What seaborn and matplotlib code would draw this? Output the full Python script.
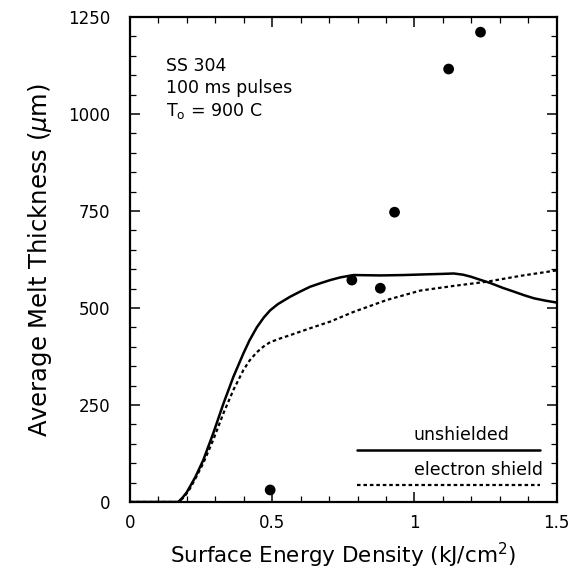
import matplotlib
matplotlib.use("Agg")
import matplotlib.pyplot as plt
import pandas as pd
import seaborn as sns
from matplotlib.ticker import MultipleLocator

unshielded_x = [0.0, 0.17, 0.185, 0.2, 0.23, 0.258, 0.293, 0.329, 0.364, 0.399,
                0.42, 0.446, 0.47, 0.493, 0.52, 0.563, 0.6, 0.634, 0.67, 0.704,
                0.74, 0.786, 0.88, 0.962, 1.05, 1.1, 1.138, 1.17, 1.197, 1.23,
                1.268, 1.31, 1.35, 1.385, 1.42, 1.46, 1.5]
unshielded_y = [0, 0, 11, 25, 64, 108, 177, 254, 323, 383,
                416, 450, 475, 494, 510, 529, 543, 555, 564, 572,
                579, 585, 584, 585, 587, 588, 589, 586, 581, 573,
                564, 552, 542, 533, 525, 519, 514]

shield_x = [0.0, 0.17, 0.19, 0.211, 0.235, 0.258, 0.293, 0.329, 0.364, 0.399,
            0.42, 0.446, 0.47, 0.493, 0.53, 0.563, 0.634, 0.704, 0.786, 0.904,
            1.021, 1.138, 1.256, 1.373, 1.5]
shield_y = [0, 0, 12, 34, 67, 100, 160, 229, 289, 340,
            364, 386, 401, 412, 422, 430, 448, 465, 490, 521,
            545, 557, 568, 583, 597]

measured_x = [0.493, 0.78, 0.88, 0.93, 1.12, 1.232]
measured_y = [31, 572, 551, 747, 1116, 1211]

x_ticks = [0, 0.5, 1, 1.5]
x_tick_labels = ["0", "0.5", "1", "1.5"]
y_ticks = [0, 250, 500, 750, 1000, 1250]

curves = pd.concat([
    pd.DataFrame({"E": unshielded_x, "melt": unshielded_y, "case": "unshielded"}),
    pd.DataFrame({"E": shield_x, "melt": shield_y, "case": "electron shield"}),
])
points = pd.DataFrame({"E": measured_x, "melt": measured_y})

sns.set_style("ticks")
plt.rcParams["font.family"] = ["DejaVu Sans"]
plt.rcParams["text.color"] = "black"
plt.rcParams["axes.labelcolor"] = "black"
plt.rcParams["xtick.color"] = "black"
plt.rcParams["ytick.color"] = "black"

fig = plt.figure(figsize=(5.77, 5.78), dpi=100)
ax = fig.add_axes([0.225, 0.1315, 0.74, 0.839])

dotted = (0, (1.6, 1.3))
sns.lineplot(data=curves[curves.case == "unshielded"], x="E", y="melt", sort=False,
             estimator=None, color="black", lw=1.8, ax=ax)
sns.lineplot(data=curves[curves.case == "electron shield"], x="E", y="melt", sort=False,
             estimator=None, color="black", lw=1.6, ax=ax, linestyle=dotted)
sns.scatterplot(data=points, x="E", y="melt", color="black", s=60, edgecolor="none",
                zorder=5, ax=ax)

ax.set_xlim(0, 1.5)
ax.set_ylim(0, 1250)
ax.set_xticks(x_ticks)
ax.set_xticklabels(x_tick_labels)
ax.set_yticks(y_ticks)
ax.xaxis.set_minor_locator(MultipleLocator(0.1))
ax.yaxis.set_minor_locator(MultipleLocator(50))
ax.tick_params(which="both", direction="in", top=True, right=True, color="black")
ax.tick_params(which="major", length=7, width=1.1, labelsize=12)
ax.tick_params(which="minor", length=4, width=0.9)
ax.tick_params(axis="y", which="major", pad=14)
ax.tick_params(axis="x", which="major", pad=9)
for spine in ax.spines.values():
    spine.set_linewidth(1.6)
    spine.set_color("black")

ax.set_xlabel("Surface Energy Density (kJ/cm$^2$)", fontsize=15.5, labelpad=6)
ax.set_ylabel("Average Melt Thickness ($\\mu$m)", fontsize=17.5, labelpad=10)

# Annotation
ax.text(0.085, 0.917, "SS 304\n100 ms pulses\nT$_\\mathregular{o}$ = 900 C",
        transform=ax.transAxes, fontsize=12.5, va="top", ha="left", linespacing=1.25)

# Legend drawn in the style of the original (label above line)
ax.text(0.665, 0.138, "unshielded", transform=ax.transAxes, fontsize=12.5,
        va="center", ha="left")
ax.plot([0.533, 0.96], [0.107, 0.107], transform=ax.transAxes, color="black", lw=1.8)
ax.text(0.665, 0.066, "electron shield", transform=ax.transAxes, fontsize=12.5,
        va="center", ha="left")
ax.plot([0.533, 0.96], [0.035, 0.035], transform=ax.transAxes, color="black", lw=1.6,
        linestyle=dotted)

if ax.get_legend() is not None:
    ax.get_legend().remove()

plt.savefig("out.png", dpi=100)
plt.close()
